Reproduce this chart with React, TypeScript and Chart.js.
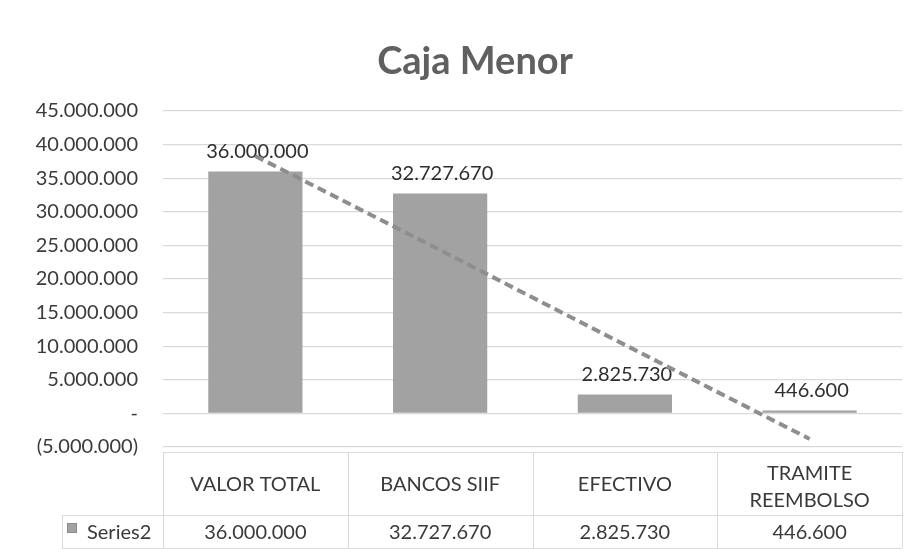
import React, { useEffect, useRef } from "react";
import { Chart, registerables } from "chart.js";

Chart.register(...registerables);

const chartTitle = "Caja Menor";
const categories: string[][] = [["VALOR TOTAL"], ["BANCOS SIIF"], ["EFECTIVO"], ["TRAMITE", "REEMBOLSO"]];
const seriesName = "Series2";
const values = [36000000, 32727670, 2825730, 446600];
const trendValues = [38300000, 24300000, 10200000, -3800000];
const yMin = -5000000;
const yMax = 45000000;
const yStep = 5000000;

const FONT = "Lato, 'Open Sans', sans-serif";
const TEXT = "#3a3a3a";
const GRID = "#d9d9d9";
const BAR = "#a2a2a2";
const TREND = "#8e8e8e";

function fmt(n: number): string {
  return Math.round(n).toString().replace(/\B(?=(\d{3})+(?!\d))/g, ".");
}
function tickLabel(v: number): string {
  if (v === 0) return "-";
  if (v < 0) return "(" + fmt(-v) + ")";
  return fmt(v);
}

const overlay = {
  id: "overlay",
  beforeDatasetsDraw(chart: any) {
    const ctx = chart.ctx;
    const meta = chart.getDatasetMeta(0);
    ctx.save();
    ctx.font = `20px ${FONT}`;
    ctx.fillStyle = "#2e2e2e";
    ctx.textAlign = "center";
    ctx.textBaseline = "middle";
    meta.data.forEach((bar: any, i: number) => {
      ctx.fillText(fmt(values[i]), bar.x + 2, bar.y - 20);
    });
    ctx.restore();
  },
  afterDraw(chart: any) {
    const ctx = chart.ctx;
    const { left, right, bottom } = chart.chartArea;
    const n = categories.length;
    const colW = (right - left) / n;
    const top = bottom + 5;
    const mid = top + 63;
    const bot = mid + 33;
    const labelLeft = 62;
    ctx.save();
    // title
    ctx.font = `bold 38px ${FONT}`;
    ctx.fillStyle = "#606060";
    ctx.textAlign = "center";
    ctx.textBaseline = "middle";
    ctx.fillText(chartTitle, 475, 62);

    // table lines
    ctx.strokeStyle = GRID;
    ctx.lineWidth = 1;
    ctx.beginPath();
    ctx.moveTo(left, top + 0.5);
    ctx.lineTo(right, top + 0.5);
    ctx.moveTo(labelLeft, mid + 0.5);
    ctx.lineTo(right, mid + 0.5);
    ctx.moveTo(labelLeft, bot + 0.5);
    ctx.lineTo(right, bot + 0.5);
    ctx.moveTo(labelLeft + 0.5, mid);
    ctx.lineTo(labelLeft + 0.5, bot);
    for (let i = 0; i <= n; i++) {
      const x = Math.round(left + i * colW) + 0.5;
      ctx.moveTo(x, top);
      ctx.lineTo(x, bot);
    }
    ctx.stroke();

    // header texts
    ctx.font = `20px ${FONT}`;
    ctx.fillStyle = TEXT;
    const headMid = (top + mid) / 2 + 1;
    categories.forEach((lines, i) => {
      const cx = left + (i + 0.5) * colW;
      const lh = 27;
      const start = headMid - ((lines.length - 1) * lh) / 2 + (lines.length > 1 ? 3 : 0);
      lines.forEach((ln, j) => ctx.fillText(ln, cx, start + j * lh));
      ctx.fillText(fmt(values[i]), cx, (mid + bot) / 2 + 1);
    });

    // legend key + series name
    ctx.fillStyle = BAR;
    ctx.fillRect(67, 523, 10, 10);
    ctx.strokeStyle = "#8a8a8a";
    ctx.strokeRect(67.5, 523.5, 9, 9);
    ctx.fillStyle = TEXT;
    ctx.textAlign = "left";
    ctx.fillText(seriesName, 87, (mid + bot) / 2 + 1);
    ctx.restore();
  },
};

export default function App() {
  const ref = useRef<HTMLCanvasElement | null>(null);
  useEffect(() => {
    if (!ref.current) return;
    const chart = new Chart(ref.current, {
      type: "bar",
      data: {
        labels: categories.map((c) => c.join(" ")),
        datasets: [
          {
            type: "bar",
            label: seriesName,
            data: values,
            backgroundColor: BAR,
            categoryPercentage: 1,
            barPercentage: 0.51,
            order: 1,
          },
          {
            type: "line",
            label: "Trend",
            data: trendValues,
            borderColor: TREND,
            borderWidth: 4,
            borderDash: [9, 5],
            pointRadius: 0,
            fill: false,
            tension: 0,
            order: 0,
          } as any,
        ],
      },
      options: {
        animation: false,
        responsive: true,
        maintainAspectRatio: false,
        layout: { padding: { left: 0, right: 17, top: 111, bottom: 111 } },
        plugins: {
          legend: { display: false },
          title: { display: false },
          tooltip: { enabled: false },
        },
        scales: {
          x: { display: false, offset: true },
          y: {
            min: yMin,
            max: yMax,
            afterFit: (s: any) => {
              s.width = 163;
            },
            ticks: {
              stepSize: yStep,
              padding: 25,
              color: TEXT,
              font: { family: FONT, size: 20 },
              callback: (v: any) => tickLabel(Number(v)),
            },
            grid: { color: GRID, drawTicks: false, lineWidth: 1.3 },
            border: { display: false },
          },
        },
      },
      plugins: [overlay],
    });
    return () => chart.destroy();
  }, []);
  return (
    <div style={{ position: "fixed", left: 0, top: 0, width: 919, height: 558, background: "#fff" }}>
      <canvas ref={ref} />
    </div>
  );
}
